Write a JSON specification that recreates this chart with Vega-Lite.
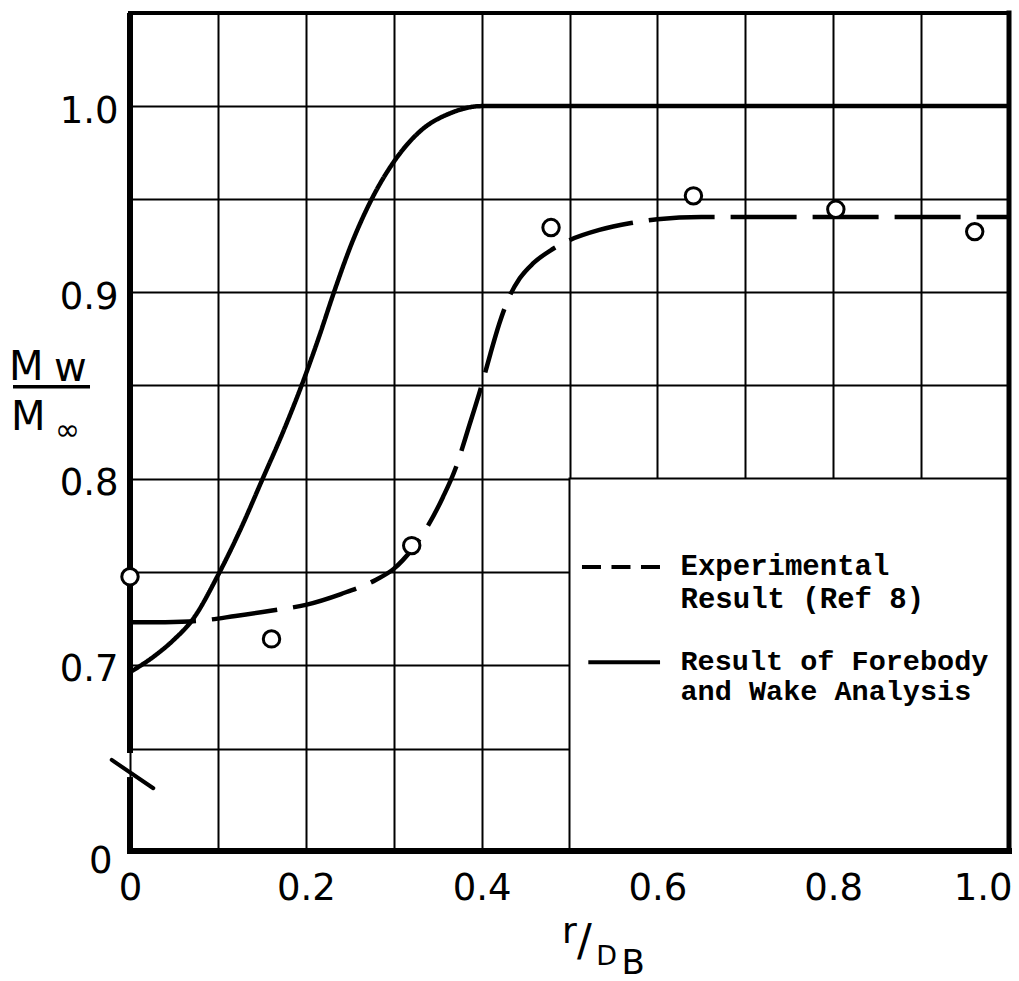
{
  "$schema": "https://vega.github.io/schema/vega-lite/v6.json",
  "width": 879,
  "height": 838,
  "autosize": {"type": "none"},
  "padding": {"left": 130, "top": 13, "right": 10, "bottom": 130},
  "background": "white",
  "config": {"view": {"stroke": null}},
  "datasets": {
    "curves": [
      {"r": 0.0, "m": 0.696, "series": "Result of Forebody and Wake Analysis"},
      {"r": 0.03, "m": 0.7055, "series": "Result of Forebody and Wake Analysis"},
      {"r": 0.05, "m": 0.7135, "series": "Result of Forebody and Wake Analysis"},
      {"r": 0.0716, "m": 0.7245, "series": "Result of Forebody and Wake Analysis"},
      {"r": 0.1, "m": 0.748, "series": "Result of Forebody and Wake Analysis"},
      {"r": 0.125, "m": 0.772, "series": "Result of Forebody and Wake Analysis"},
      {"r": 0.151, "m": 0.8, "series": "Result of Forebody and Wake Analysis"},
      {"r": 0.175, "m": 0.826, "series": "Result of Forebody and Wake Analysis"},
      {"r": 0.196, "m": 0.851, "series": "Result of Forebody and Wake Analysis"},
      {"r": 0.215, "m": 0.876, "series": "Result of Forebody and Wake Analysis"},
      {"r": 0.232, "m": 0.9, "series": "Result of Forebody and Wake Analysis"},
      {"r": 0.252, "m": 0.926, "series": "Result of Forebody and Wake Analysis"},
      {"r": 0.276, "m": 0.951, "series": "Result of Forebody and Wake Analysis"},
      {"r": 0.3, "m": 0.97, "series": "Result of Forebody and Wake Analysis"},
      {"r": 0.33, "m": 0.9865, "series": "Result of Forebody and Wake Analysis"},
      {"r": 0.365, "m": 0.9963, "series": "Result of Forebody and Wake Analysis"},
      {"r": 0.4, "m": 1.0, "series": "Result of Forebody and Wake Analysis"},
      {"r": 0.45, "m": 1.0, "series": "Result of Forebody and Wake Analysis"},
      {"r": 0.6, "m": 1.0, "series": "Result of Forebody and Wake Analysis"},
      {"r": 0.8, "m": 1.0, "series": "Result of Forebody and Wake Analysis"},
      {"r": 1.0, "m": 1.0, "series": "Result of Forebody and Wake Analysis"},
      {"r": 0.0, "m": 0.7228, "series": "Experimental Result (Ref 8)"},
      {"r": 0.04, "m": 0.7229, "series": "Experimental Result (Ref 8)"},
      {"r": 0.08, "m": 0.7237, "series": "Experimental Result (Ref 8)"},
      {"r": 0.12, "m": 0.7262, "series": "Experimental Result (Ref 8)"},
      {"r": 0.16, "m": 0.729, "series": "Experimental Result (Ref 8)"},
      {"r": 0.2, "m": 0.7322, "series": "Experimental Result (Ref 8)"},
      {"r": 0.24, "m": 0.738, "series": "Experimental Result (Ref 8)"},
      {"r": 0.28, "m": 0.7457, "series": "Experimental Result (Ref 8)"},
      {"r": 0.3, "m": 0.7515, "series": "Experimental Result (Ref 8)"},
      {"r": 0.32, "m": 0.7615, "series": "Experimental Result (Ref 8)"},
      {"r": 0.34, "m": 0.7755, "series": "Experimental Result (Ref 8)"},
      {"r": 0.356, "m": 0.79, "series": "Experimental Result (Ref 8)"},
      {"r": 0.37, "m": 0.805, "series": "Experimental Result (Ref 8)"},
      {"r": 0.385, "m": 0.827, "series": "Experimental Result (Ref 8)"},
      {"r": 0.4, "m": 0.85, "series": "Experimental Result (Ref 8)"},
      {"r": 0.41, "m": 0.867, "series": "Experimental Result (Ref 8)"},
      {"r": 0.42, "m": 0.883, "series": "Experimental Result (Ref 8)"},
      {"r": 0.43, "m": 0.896, "series": "Experimental Result (Ref 8)"},
      {"r": 0.4434, "m": 0.9075, "series": "Experimental Result (Ref 8)"},
      {"r": 0.4585, "m": 0.9155, "series": "Experimental Result (Ref 8)"},
      {"r": 0.48, "m": 0.923, "series": "Experimental Result (Ref 8)"},
      {"r": 0.5, "m": 0.928, "series": "Experimental Result (Ref 8)"},
      {"r": 0.534, "m": 0.9335, "series": "Experimental Result (Ref 8)"},
      {"r": 0.57, "m": 0.9372, "series": "Experimental Result (Ref 8)"},
      {"r": 0.6, "m": 0.9393, "series": "Experimental Result (Ref 8)"},
      {"r": 0.65, "m": 0.9405, "series": "Experimental Result (Ref 8)"},
      {"r": 0.75, "m": 0.9405, "series": "Experimental Result (Ref 8)"},
      {"r": 0.9, "m": 0.9405, "series": "Experimental Result (Ref 8)"},
      {"r": 1.0, "m": 0.9405, "series": "Experimental Result (Ref 8)"}
    ],
    "points": [
      {"r": 0.0, "m": 0.7473},
      {"r": 0.161, "m": 0.7139},
      {"r": 0.3205, "m": 0.764},
      {"r": 0.479, "m": 0.9348},
      {"r": 0.641, "m": 0.9518},
      {"r": 0.803, "m": 0.9446},
      {"r": 0.961, "m": 0.9326}
    ]
  },
  "layer": [
    {
      "data": {"name": "curves"},
      "mark": {"type": "line", "color": "black", "strokeWidth": 4.5, "interpolate": "monotone", "strokeCap": "butt"},
      "encoding": {
        "x": {
          "field": "r", "type": "quantitative",
          "scale": {"domain": [0, 1], "nice": false, "zero": false},
          "axis": {
            "title": null,
            "values": [0, 0.1, 0.2, 0.3, 0.4, 0.5, 0.6, 0.7, 0.8, 0.9, 1.0],
            "labelExpr": "datum.value == 0 ? '0' : (round(datum.value * 10) % 2 == 0 ? format(datum.value, '.1f') : '')",
            "domain": false, "ticks": false,
            "grid": true, "gridColor": "black", "gridWidth": 2, "gridOpacity": 1,
            "labelFont": "DejaVu Sans", "labelFontSize": 37, "labelColor": "black",
            "labelPadding": 19, "labelFlush": false, "labelOverlap": false, "labelBound": false,
            "labelAlign": {"condition": {"test": "datum.value == 1", "value": "right"}, "value": "center"},
            "labelOffset": {"condition": {"test": "datum.value == 1", "value": 3}, "value": 0}
          }
        },
        "y": {
          "field": "m", "type": "quantitative",
          "scale": {"domain": [0.6, 1.05], "nice": false, "zero": false},
          "axis": {
            "title": null,
            "values": [0.6, 0.655, 0.7, 0.75, 0.8, 0.85, 0.9, 0.95, 1.0],
            "labelExpr": "datum.value == 0.6 ? '0' : ((datum.value == 0.7 || datum.value == 0.8 || datum.value == 0.9) ? format(datum.value, '.1f') : (datum.value == 1 ? '1.0' : ''))",
            "domain": false, "ticks": false,
            "grid": true, "gridColor": "black", "gridWidth": 2, "gridOpacity": 1,
            "labelFont": "DejaVu Sans", "labelFontSize": 37, "labelColor": "black",
            "labelFlush": false, "labelOverlap": false, "labelBound": false,
            "labelBaseline": "middle",
            "labelPadding": {"condition": {"test": "datum.value == 0.6", "value": 18}, "value": 12},
            "labelOffset": {"condition": {"test": "datum.value == 0.6", "value": 10}, "value": 5}
          }
        },
        "strokeDash": {
          "field": "series", "type": "nominal",
          "scale": {"domain": ["Experimental Result (Ref 8)", "Result of Forebody and Wake Analysis"], "range": [[66, 16], [1, 0]]},
          "legend": null
        }
      }
    },
    {
      "data": {"values": [{}]},
      "mark": {"type": "rect", "fill": "white", "stroke": "black", "strokeWidth": 2},
      "encoding": {
        "x": {"datum": 0.5, "type": "quantitative"},
        "x2": {"datum": 1.0},
        "y": {"datum": 0.6, "type": "quantitative"},
        "y2": {"datum": 0.8}
      }
    },
    {
      "data": {"values": [{}]},
      "mark": {"type": "rule", "color": "black", "strokeWidth": 4, "strokeCap": "square"},
      "encoding": {
        "x": {"datum": 0, "type": "quantitative"},
        "x2": {"datum": 1},
        "y": {"datum": 1.05, "type": "quantitative"}
      }
    },
    {
      "data": {"values": [{}]},
      "mark": {"type": "rule", "color": "black", "strokeWidth": 5, "strokeCap": "square"},
      "encoding": {
        "x": {"datum": 1, "type": "quantitative"},
        "y": {"datum": 0.6, "type": "quantitative"},
        "y2": {"datum": 1.05}
      }
    },
    {
      "data": {"values": [{}]},
      "mark": {"type": "rule", "color": "black", "strokeWidth": 6, "strokeCap": "butt"},
      "encoding": {
        "x": {"datum": 0, "type": "quantitative"},
        "y": {"datum": 0.6526, "type": "quantitative"},
        "y2": {"datum": 1.05}
      }
    },
    {
      "data": {"values": [{}]},
      "mark": {"type": "rule", "color": "black", "strokeWidth": 6, "strokeCap": "butt"},
      "encoding": {
        "x": {"datum": 0, "type": "quantitative"},
        "y": {"datum": 0.5985, "type": "quantitative"},
        "y2": {"datum": 0.6397}
      }
    },
    {
      "data": {"values": [{}]},
      "mark": {"type": "rule", "color": "black", "strokeWidth": 6, "strokeCap": "square"},
      "encoding": {
        "x": {"datum": 0, "type": "quantitative"},
        "x2": {"datum": 1},
        "y": {"datum": 0.6, "type": "quantitative"}
      }
    },
    {
      "data": {"values": [{}]},
      "mark": {"type": "rule", "color": "black", "strokeWidth": 4, "strokeCap": "round"},
      "encoding": {
        "x": {"datum": -0.0208, "type": "quantitative"},
        "x2": {"datum": 0.0265},
        "y": {"datum": 0.6489, "type": "quantitative"},
        "y2": {"datum": 0.6337}
      }
    },
    {
      "data": {"name": "points"},
      "mark": {"type": "point", "shape": "circle", "filled": true, "fill": "white", "stroke": "black", "strokeWidth": 3, "size": 270, "opacity": 1},
      "encoding": {
        "x": {"field": "r", "type": "quantitative"},
        "y": {"field": "m", "type": "quantitative"}
      }
    },
    {
      "data": {"values": [{}]},
      "mark": {"type": "rule", "color": "black", "strokeWidth": 4, "strokeDash": [19, 10.5], "strokeCap": "butt"},
      "encoding": {
        "x": {"datum": 0.5142, "type": "quantitative"},
        "x2": {"datum": 0.603},
        "y": {"datum": 0.7525, "type": "quantitative"}
      }
    },
    {
      "data": {"values": [{}]},
      "mark": {"type": "rule", "color": "black", "strokeWidth": 4, "strokeCap": "butt"},
      "encoding": {
        "x": {"datum": 0.5214, "type": "quantitative"},
        "x2": {"datum": 0.603},
        "y": {"datum": 0.7013, "type": "quantitative"}
      }
    },
    {
      "data": {"values": [{}]},
      "mark": {"type": "text", "text": ["Experimental", "Result (Ref 8)"], "font": "Liberation Mono", "fontWeight": "bold", "fontSize": 29, "lineHeight": 33, "align": "left", "baseline": "alphabetic", "color": "black"},
      "encoding": {
        "x": {"datum": 0.6263, "type": "quantitative"},
        "y": {"datum": 0.7482, "type": "quantitative"}
      }
    },
    {
      "data": {"values": [{}]},
      "mark": {"type": "text", "text": ["Result of Forebody", "and Wake Analysis"], "font": "Liberation Mono", "fontWeight": "bold", "fontSize": 28.5, "lineHeight": 30.5, "align": "left", "baseline": "alphabetic", "color": "black"},
      "encoding": {
        "x": {"datum": 0.6263, "type": "quantitative"},
        "y": {"datum": 0.6972, "type": "quantitative"}
      }
    },
    {
      "data": {"values": [{}]},
      "mark": {"type": "text", "text": "M", "font": "DejaVu Sans", "fontSize": 40, "align": "left", "baseline": "alphabetic", "color": "black"},
      "encoding": {
        "x": {"datum": -0.1377, "type": "quantitative"},
        "y": {"datum": 0.853, "type": "quantitative"}
      }
    },
    {
      "data": {"values": [{}]},
      "mark": {"type": "text", "text": "w", "font": "DejaVu Sans", "fontSize": 40, "align": "left", "baseline": "alphabetic", "color": "black"},
      "encoding": {
        "x": {"datum": -0.0865, "type": "quantitative"},
        "y": {"datum": 0.8525, "type": "quantitative"}
      }
    },
    {
      "data": {"values": [{}]},
      "mark": {"type": "rule", "color": "black", "strokeWidth": 3.5, "strokeCap": "butt"},
      "encoding": {
        "x": {"datum": -0.1331, "type": "quantitative"},
        "x2": {"datum": -0.0455},
        "y": {"datum": 0.8493, "type": "quantitative"}
      }
    },
    {
      "data": {"values": [{}]},
      "mark": {"type": "text", "text": "M", "font": "DejaVu Sans", "fontSize": 40, "align": "left", "baseline": "alphabetic", "color": "black"},
      "encoding": {
        "x": {"datum": -0.1354, "type": "quantitative"},
        "y": {"datum": 0.8261, "type": "quantitative"}
      }
    },
    {
      "data": {"values": [{}]},
      "mark": {"type": "text", "text": "∞", "font": "DejaVu Sans", "fontSize": 30, "align": "left", "baseline": "alphabetic", "color": "black"},
      "encoding": {
        "x": {"datum": -0.0853, "type": "quantitative"},
        "y": {"datum": 0.8207, "type": "quantitative"}
      }
    },
    {
      "data": {"values": [{}]},
      "mark": {"type": "text", "text": "r", "font": "DejaVu Sans", "fontSize": 36, "align": "left", "baseline": "alphabetic", "color": "black"},
      "encoding": {
        "x": {"datum": 0.4915, "type": "quantitative"},
        "y": {"datum": 0.5506, "type": "quantitative"}
      }
    },
    {
      "data": {"values": [{}]},
      "mark": {"type": "text", "text": "/", "font": "DejaVu Sans", "fontSize": 44, "align": "left", "baseline": "alphabetic", "color": "black"},
      "encoding": {
        "x": {"datum": 0.5085, "type": "quantitative"},
        "y": {"datum": 0.5436, "type": "quantitative"}
      }
    },
    {
      "data": {"values": [{}]},
      "mark": {"type": "text", "text": "D", "font": "DejaVu Sans", "fontSize": 27, "align": "left", "baseline": "alphabetic", "color": "black"},
      "encoding": {
        "x": {"datum": 0.5305, "type": "quantitative"},
        "y": {"datum": 0.5388, "type": "quantitative"}
      }
    },
    {
      "data": {"values": [{}]},
      "mark": {"type": "text", "text": "B", "font": "DejaVu Sans", "fontSize": 34, "align": "left", "baseline": "alphabetic", "color": "black"},
      "encoding": {
        "x": {"datum": 0.5592, "type": "quantitative"},
        "y": {"datum": 0.534, "type": "quantitative"}
      }
    }
  ]
}
